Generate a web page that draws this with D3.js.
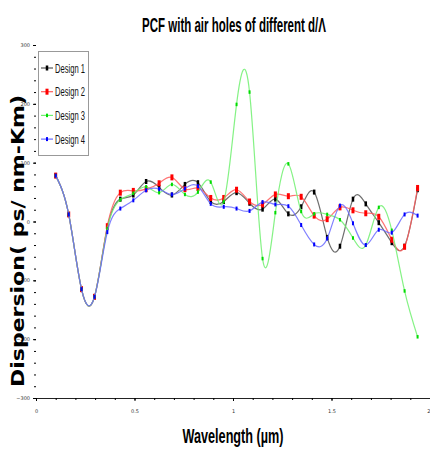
<!DOCTYPE html>
<html>
<head>
<meta charset="utf-8">
<script src="https://cdn.jsdelivr.net/npm/d3@7"></script>
<style>
  body { margin: 0; background: #fff; }
</style>
</head>
<body>
<div id="chart"></div>
<script>
// wavelength (um) of the sampled points
const wavelength = [0.100, 0.166, 0.231, 0.297, 0.362, 0.428, 0.494, 0.559, 0.625, 0.690,
                    0.756, 0.822, 0.887, 0.953, 1.018, 1.084, 1.150, 1.215, 1.281, 1.346,
                    1.412, 1.478, 1.543, 1.609, 1.674, 1.740, 1.806, 1.871, 1.937];

const design1 = [78, 12, -115, -128, -10, 38, 45, 68, 58, 45, 63, 66, 34, 34, 49, 31, 21, 38, 13, 25,
                 50, -27, -42, 38, 30, -2, -36, -42, 54];
const design2 = [78, 12, -115, -128, -8, 49, 52, 55, 65, 75, 55, 57, 40, 40, 54, 34, 29, 46, 43, 42,
                 10, 4, 24, 19, 14, 8, -31, -43, 57];
const design3 = [78, 12, -115, -128, -12, 37, 48, 59, 49, 63, 46, 50, 67, 34, 199, 220, -63, 15, 98, 17,
                 13, 12, 3, -28, -40, 24, -15, -118, -196];
const design4 = [78, 12, -115, -128, -18, 22, 36, 53, 55, 46, 56, 60, 30, 25, 22, 18, 33, 29, 26, -6,
                 -39, -29, 27, -3, -40, -14, -19, 12, 10];

const seriesNames = ["Design 1", "Design 2", "Design 3", "Design 4"];
const yTicks = [-300, -200, -100, 0, 100, 200, 300];
const xTicks = [0, 0.5, 1, 1.5, 2];

const W = 430, H = 449;

const series = [
    {name: seriesNames[0], values: design1, line: "#555555", mark: "#000000", mw: 2.5, mh: 5},
    {name: seriesNames[1], values: design2, line: "#ff5c5c", mark: "#ff0000", mw: 3, mh: 6},
    {name: seriesNames[2], values: design3, line: "#70f070", mark: "#00dd00", mw: 2, mh: 3.5},
    {name: seriesNames[3], values: design4, line: "#6a6aff", mark: "#0000ff", mw: 2, mh: 4}
];

const svg = d3.select("#chart").append("svg")
    .attr("width", W)
    .attr("height", H);

const x = d3.scaleLinear().domain([0, 2]).range([36, 430]);
const y = d3.scaleLinear().domain([-300, 300]).range([398, 45]);

// title - condensed by a horizontal scale instead of textLength
const title = svg.append("text")
    .attr("text-anchor", "middle")
    .style("font-family", "'Liberation Sans Narrow', 'Liberation Sans', sans-serif")
    .style("font-weight", "bold")
    .style("font-size", "20px")
    .text("PCF with air holes of different d/\u039B");
const titleLen = title.node().getComputedTextLength();
title.attr("transform", `translate(234,32) scale(${184 / titleLen},1)`);

// x axis
const xAxis = d3.axisBottom(x)
    .tickValues(xTicks)
    .tickFormat(d3.format("~g"))
    .tickSize(3)
    .tickPadding(8);

const gx = svg.append("g")
    .attr("transform", `translate(0,${y(-300)})`)
    .call(xAxis);
gx.select(".domain").attr("stroke", "#222").attr("stroke-width", 1);
gx.selectAll("text")
    .style("font-size", "5px")
    .style("font-family", "'DejaVu Sans', sans-serif")
    .attr("fill", "#333")
    .attr("text-anchor", function (d) { return d === 2 ? "end" : "middle"; });

svg.append("g")
    .attr("transform", `translate(0,${y(-300)})`)
    .call(d3.axisBottom(x).ticks(20).tickSize(2).tickFormat(""))
    .call(function (g) { g.select(".domain").remove(); });

// y axis
const yAxis = d3.axisLeft(y)
    .tickValues(yTicks)
    .tickSize(3)
    .tickPadding(3);

const gy = svg.append("g")
    .attr("transform", `translate(${x(0)},0)`)
    .call(yAxis);
gy.select(".domain").remove();
gy.selectAll("text").style("font-size", "5px").style("font-family", "'DejaVu Sans', sans-serif").attr("fill", "#333");

svg.append("g")
    .attr("transform", `translate(${x(0)},0)`)
    .call(d3.axisLeft(y).ticks(30).tickSize(2).tickFormat(""))
    .call(function (g) { g.select(".domain").remove(); });

// axis titles
svg.append("text")
    .attr("x", 233)
    .attr("y", 443)
    .attr("text-anchor", "middle")
    .attr("textLength", 101)
    .attr("lengthAdjust", "spacingAndGlyphs")
    .style("font-family", "'Liberation Sans Narrow', 'Liberation Sans', sans-serif")
    .style("font-weight", "bold")
    .style("font-size", "21px")
    .text("Wavelength (\u00B5m)");

svg.append("text")
    .attr("transform", "translate(24,241) rotate(-90)")
    .attr("text-anchor", "middle")
    .attr("textLength", 292)
    .attr("lengthAdjust", "spacingAndGlyphs")
    .style("font-family", "'DejaVu Sans', sans-serif")
    .style("font-weight", "bold")
    .style("font-size", "17px")
    .text("Dispersion( ps/ nm-Km)");

// lines
const line = d3.line()
    .x(function (d, i) { return x(wavelength[i]); })
    .y(function (d) { return y(d); })
    .curve(d3.curveNatural);

const plot = svg.append("g");

series.forEach(function (s) {
    const g = plot.append("g");
    g.append("path")
        .attr("d", line(s.values))
        .attr("fill", "none")
        .attr("stroke", s.line)
        .attr("stroke-width", 1.2)
        .attr("stroke-opacity", 0.85);
    g.selectAll("rect")
        .data(s.values)
        .enter().append("rect")
        .attr("x", function (d, i) { return x(wavelength[i]) - s.mw / 2; })
        .attr("y", function (d) { return y(d) - s.mh / 2; })
        .attr("width", s.mw)
        .attr("height", s.mh)
        .attr("fill", s.mark);
});

// legend
const legend = svg.append("g");
legend.append("rect")
    .attr("x", 38.5)
    .attr("y", 51.5)
    .attr("width", 50)
    .attr("height", 104)
    .attr("fill", "#fff")
    .attr("stroke", "#999")
    .attr("stroke-width", 1);

series.forEach(function (s, i) {
    const ly = 68 + i * 23.7;
    legend.append("line")
        .attr("x1", 41).attr("x2", 53)
        .attr("y1", ly).attr("y2", ly)
        .attr("stroke", s.line)
        .attr("stroke-width", 1.2);
    legend.append("rect")
        .attr("x", 47 - s.mw / 2)
        .attr("y", ly - s.mh / 2)
        .attr("width", s.mw)
        .attr("height", s.mh)
        .attr("fill", s.mark);
    legend.append("text")
        .attr("x", 55)
        .attr("y", ly + 4.5)
        .attr("textLength", 30)
        .attr("lengthAdjust", "spacingAndGlyphs")
        .style("font-family", "'Liberation Sans Narrow', 'Liberation Sans', sans-serif")
        .style("font-size", "13px")
        .attr("fill", "#111")
        .text(s.name);
});
</script>
</body>
</html>
